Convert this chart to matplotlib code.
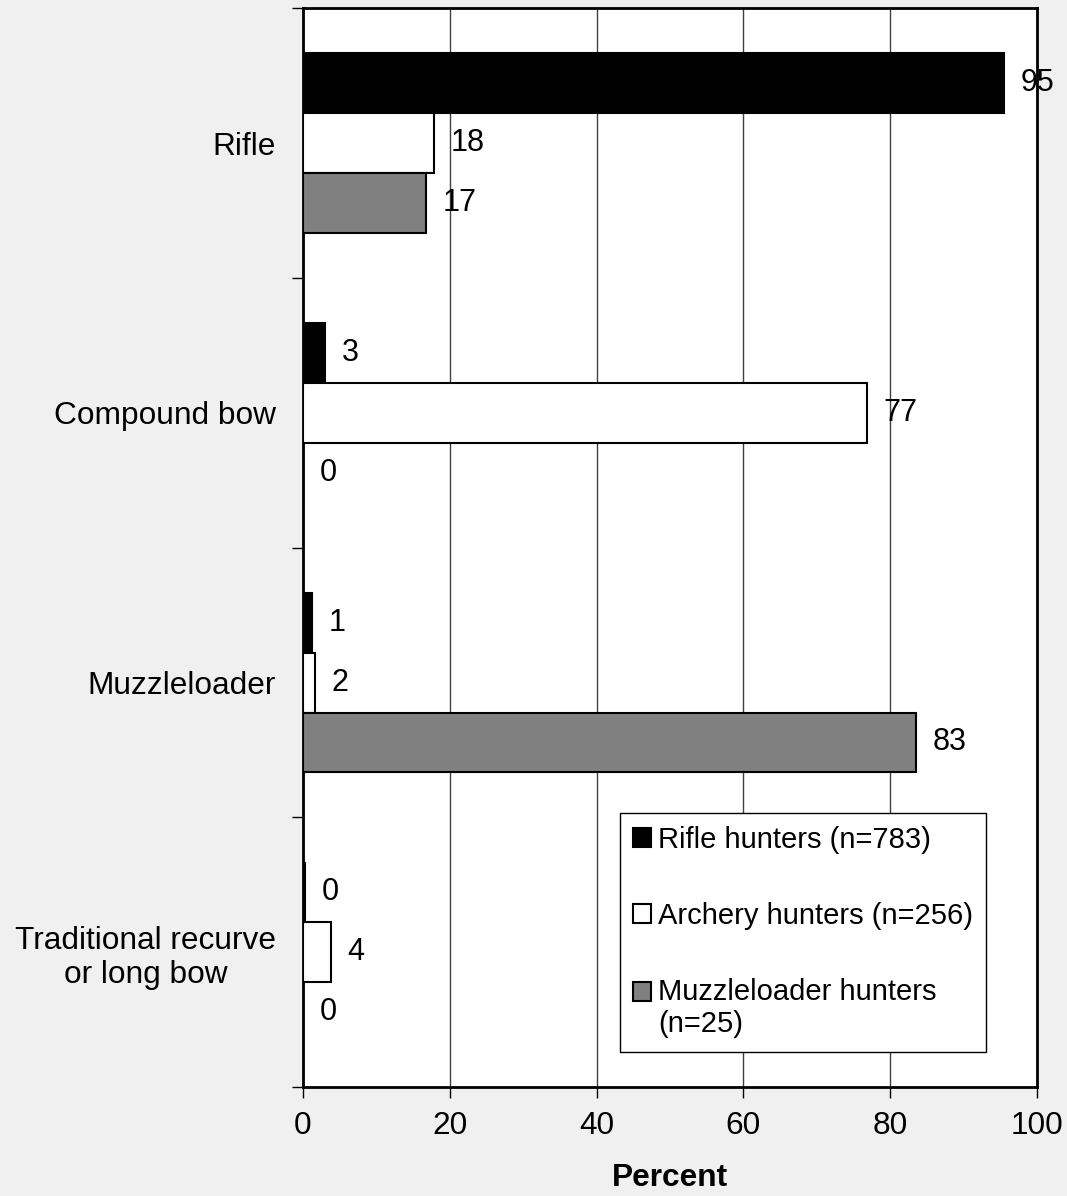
import numpy as np
import matplotlib.pyplot as plt

plt.rcParams['font.family'] = ['Liberation Sans', 'DejaVu Sans']

categories = ['Rifle', 'Compound bow', 'Muzzleloader', 'Traditional recurve\nor long bow']
series = ['Rifle hunters (n=783)', 'Archery hunters (n=256)', 'Muzzleloader hunters\n(n=25)']
rifle = [95.5, 3.0, 1.2, 0.3]
archery = [17.8, 76.8, 1.6, 3.8]
muzzle = [16.8, 0.0, 83.5, 0.0]
rifle_lbl = ['95', '3', '1', '0']
archery_lbl = ['18', '77', '2', '4']
muzzle_lbl = ['17', '0', '83', '0']
colors = ['black', 'white', '#808080']

fig = plt.figure(figsize=(10.67, 11.96), dpi=100, facecolor='#f0f0f0')
ax = fig.add_axes([0.284, 0.091, 0.688, 0.902])

y = np.arange(len(categories))
h = 0.222
fs = 22.8
for i, (vals, lbls) in enumerate([(rifle, rifle_lbl), (archery, archery_lbl), (muzzle, muzzle_lbl)]):
    pos = y + (i - 1) * h
    ax.barh(pos, vals, height=h, color=colors[i], edgecolor='black', linewidth=1.5,
            label=series[i], zorder=3)
    for p, v, t in zip(pos, vals, lbls):
        ax.annotate(t, (v, p), xytext=(12, 0), textcoords='offset points',
                    ha='left', va='center', fontsize=22, zorder=4, annotation_clip=False)

ax.set_xlim(0, 100)
ax.set_ylim(3.5, -0.5)
ax.set_xticks(np.arange(0, 101, 20))
ax.tick_params(axis='x', labelsize=fs, length=8, width=1, direction='out', pad=9)
ax.set_yticks(np.arange(-0.5, 3.6, 1))
ax.set_yticklabels([])
ax.tick_params(axis='y', which='major', length=8, width=1, direction='out')
ax.set_yticks(y, minor=True)
ax.set_yticklabels(categories, minor=True, fontsize=fs, multialignment='center')
ax.tick_params(axis='y', which='minor', length=0, pad=19.5)
ax.xaxis.grid(True, color='#404040', linewidth=1, zorder=0)
for s in ax.spines.values():
    s.set_linewidth(2)
ax.set_xlabel('Percent', fontsize=fs, fontweight='bold', labelpad=16)

lfs = 21
leg = ax.legend(loc='lower left', bbox_to_anchor=(0.432, 0.033), borderaxespad=0,
                fontsize=lfs, frameon=True, fancybox=False, edgecolor='black', framealpha=1,
                handlelength=0.6, handleheight=0.6, handletextpad=0.25,
                labelspacing=1.65, borderpad=0.45)
leg.get_frame().set_linewidth(1)
leg.set_zorder(5)
# put the third swatch level with the first line of its two-line label
hd = leg.legend_handles[2]
hd.set_y(hd.get_y() + 0.6 * lfs)

fig.savefig('out.png', dpi=100, facecolor=fig.get_facecolor())
